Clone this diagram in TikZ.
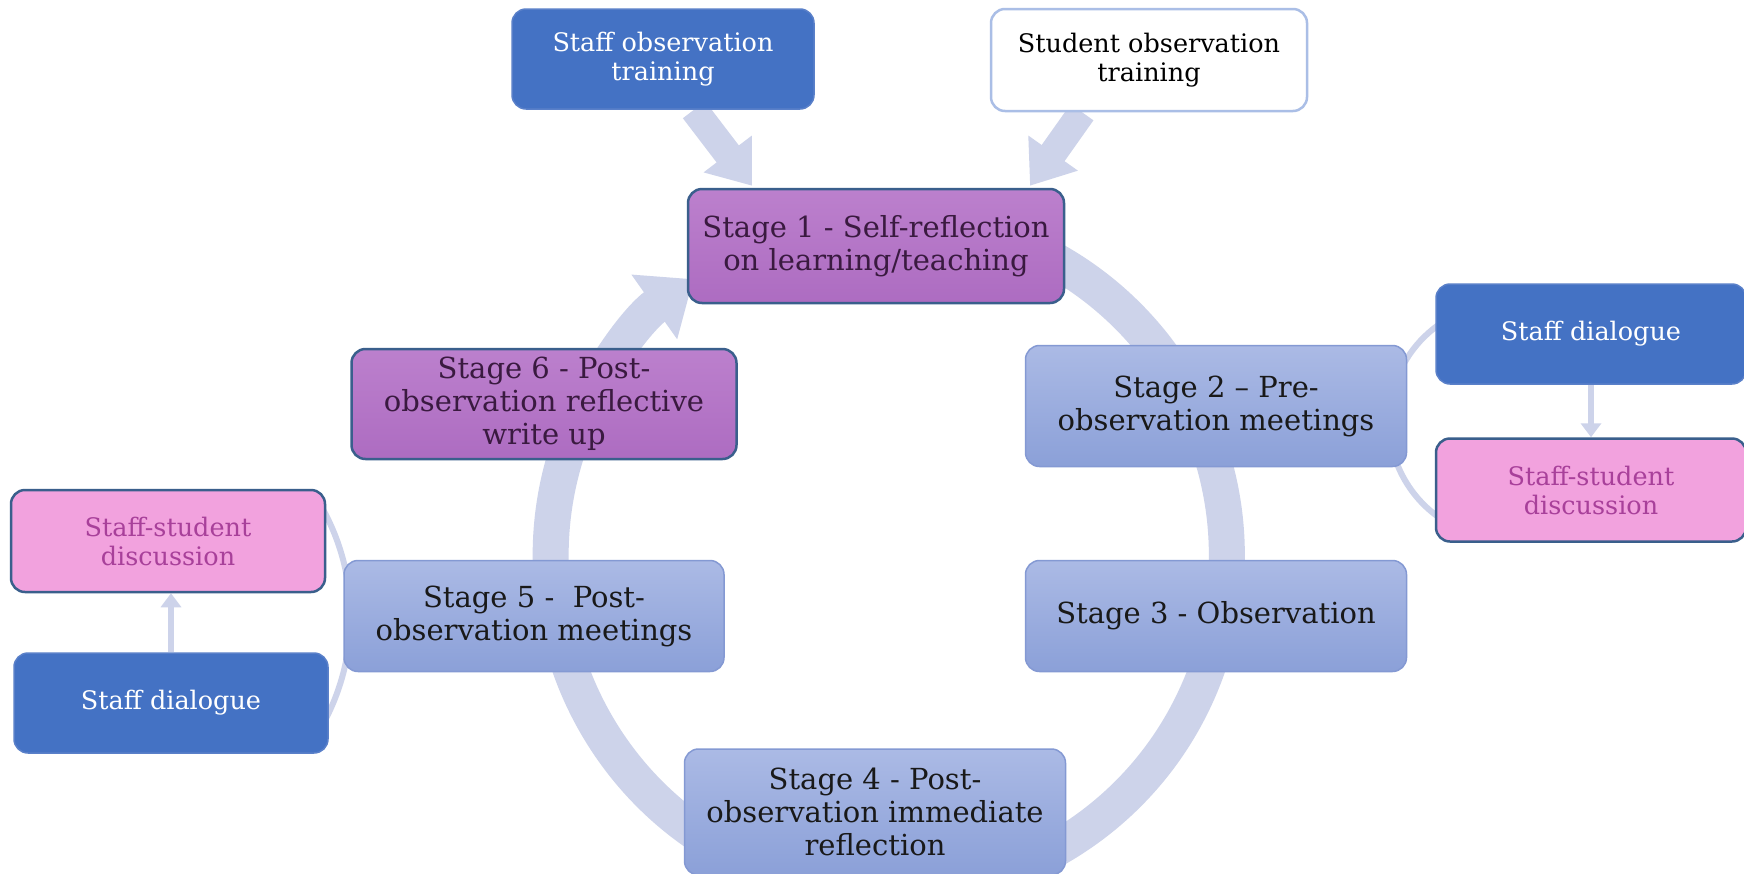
\documentclass[tikz,border=0pt]{standalone}
\usepackage{fontspec}
\setmainfont{DejaVu Serif}
\usetikzlibrary{arrows.meta,backgrounds,calc}
\definecolor{ringc}{HTML}{CDD3EA}
\definecolor{dblue}{HTML}{4472C4}
\definecolor{dblueb}{HTML}{5A80C9}
\definecolor{sttop}{HTML}{ABBAE5}
\definecolor{stbot}{HTML}{8BA0D8}
\definecolor{stbord}{HTML}{8499D3}
\definecolor{purtop}{HTML}{BC80CD}
\definecolor{purbot}{HTML}{AD6CC1}
\definecolor{purbord}{HTML}{3A5F8C}
\definecolor{purtext}{HTML}{3A1A40}
\definecolor{pinkf}{HTML}{F2A2DE}
\definecolor{pinktext}{HTML}{A8409A}
\definecolor{wbord}{HTML}{AABEE6}
\begin{document}
\begin{tikzpicture}[x=1pt,y=1pt,
  basebox/.style={rounded corners=14pt, align=center, inner sep=0pt, minimum width=#1},
  bigfont/.style={font=\fontsize{29}{33}\selectfont},
  smallfont/.style={font=\fontsize{25.5}{29}\selectfont},
  stagebox/.style={basebox=#1, bigfont, top color=sttop, bottom color=stbot, draw=stbord, line width=1.5pt, text=black!90},
  purbox/.style={basebox=#1, bigfont, top color=purtop, bottom color=purbot, draw=purbord, line width=2.5pt, text=purtext},
  bluebox/.style={basebox=#1, smallfont, fill=dblue, draw=dblueb, line width=1.5pt, text=white},
  whitebox/.style={basebox=#1, smallfont, fill=white, draw=wbord, line width=2.5pt, text=black},
  pinkbox/.style={basebox=#1, smallfont, fill=pinkf, draw=purbord, line width=2.5pt, text=pinktext},
  bigring/.style={draw=ringc, line width=36pt, -{Triangle[width=76pt,length=48pt]}},
  feed/.style={draw=ringc, line width=28pt, -{Triangle[width=58pt,length=40pt]}},
  thinring/.style={draw=ringc, line width=6pt},
  thinarrow/.style={draw=ringc, line width=6pt, -{Triangle[width=20pt,length=14pt]}}
]
\path[use as bounding box] (0,0) rectangle (1744,-873);
% nodes
\node[bluebox=302pt, minimum height=100pt] (sot) at (663,-59) {Staff observation\\training};
\node[whitebox=316pt, minimum height=102pt] (stt) at (1149,-60) {Student observation\\training};
\node[purbox=376pt, minimum height=114pt] (s1) at (876,-246) {Stage 1 - Self-reflection\\on learning/teaching};
\node[stagebox=381pt, minimum height=121pt] (s2) at (1216,-406) {Stage 2 -- Pre-\\observation meetings};
\node[stagebox=381pt, minimum height=111pt] (s3) at (1216,-616) {Stage 3 - Observation};
\node[stagebox=381pt, minimum height=126pt] (s4) at (875,-812) {Stage 4 - Post-\\observation immediate\\reflection};
\node[stagebox=380pt, minimum height=111pt] (s5) at (534,-616) {Stage 5 -~~Post-\\observation meetings};
\node[purbox=385pt, minimum height=110pt] (s6) at (544,-404) {Stage 6 - Post-\\observation reflective\\write up};
\node[bluebox=310pt, minimum height=100pt] (sdR) at (1591,-334) {Staff dialogue};
\node[pinkbox=310pt, minimum height=103pt] (ssdR) at (1591,-490) {Staff-student\\discussion};
\node[pinkbox=314pt, minimum height=102pt] (ssdL) at (168,-541) {Staff-student\\discussion};
\node[bluebox=314pt, minimum height=100pt] (sdL) at (171,-703) {Staff dialogue};
% connectors behind
\begin{scope}[on background layer]
  \fill[white] (0,0) rectangle (1744,-873);
  \coordinate (RC) at ($(sdR.south west)!0.5!(ssdR.north west)+(72,-10)$);
  \coordinate (LC) at ($(ssdL.south)!0.5!(sdL.north)+(-42,6)$);
  \coordinate (C) at ($(s2.east)!0.5!(s6.west)+(10,-150)$);
  \draw[bigring] (C) ++(70:338) arc[start angle=70, end angle=-234.7, radius=338];
  \draw[feed] ([xshift=31pt]sot.south) -- ([xshift=-124pt,yshift=2pt]s1.north);
  \draw[feed] ([xshift=-67pt]stt.south) -- ([xshift=154pt,yshift=2pt]s1.north);
  \draw[thinring] (RC) ++(120:118) arc[start angle=120, end angle=240, radius=118];
  \draw[thinring] (LC) ++(-32:223) arc[start angle=-32, end angle=32, radius=223];
  \draw[thinarrow] (sdR.south) -- (ssdR.north);
  \draw[thinarrow] (sdL.north) -- (sdL.north |- ssdL.south);
\end{scope}
\end{tikzpicture}
\end{document}
